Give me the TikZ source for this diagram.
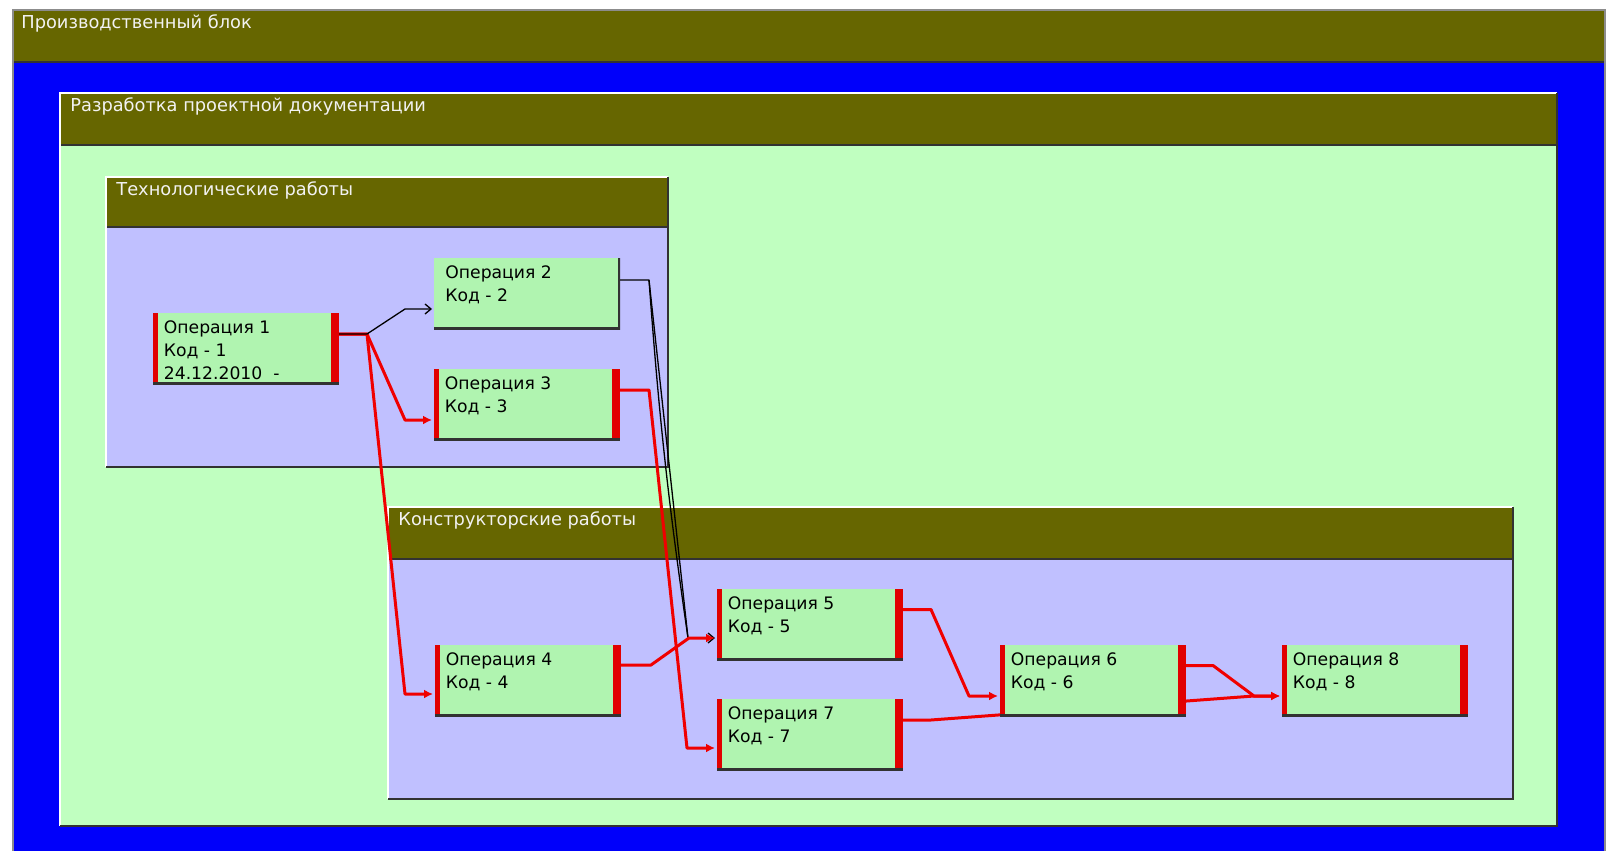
\documentclass[tikz,border=0pt]{standalone}
\usepackage{fontspec}
\setmainfont{DejaVu Sans}
\usetikzlibrary{arrows.meta}
\definecolor{hdrolive}{RGB}{102,102,0}
\definecolor{frameblue}{RGB}{0,0,250}
\definecolor{devgreen}{RGB}{192,255,192}
\definecolor{grplav}{RGB}{192,192,255}
\definecolor{opgreen}{RGB}{176,244,176}
\definecolor{barred}{RGB}{225,0,0}
\definecolor{wirered}{RGB}{240,0,0}
\definecolor{edgegray}{RGB}{140,140,140}
\definecolor{edgedark}{RGB}{50,50,50}
\definecolor{titlewhite}{RGB}{242,242,242}
\pgfdeclarelayer{groups}
\pgfdeclarelayer{wires}
\pgfsetlayers{groups,wires,main}
\newcommand\opstrut{\rule{0pt}{7pt}}
\newcommand\grpbox[8]{%
  \begin{pgfonlayer}{groups}
  \fill[#7] (#2,#6) rectangle (#4,#5);
  \fill[hdrolive] (#2,#3) rectangle (#4,#6);
  \draw[hdrline] (#2,#6) -- (#4,#6);
  \draw[lightedge] (#2,#5) -- (#2,#3) -- (#4,#3);
  \draw[darkedge] (#4,#3) -- (#4,#5) -- (#2,#5);
  \end{pgfonlayer}
  \node[grptitle] (#1) at ([xshift=5pt,yshift=-9pt]#2,#3) {#8};
}
\tikzset{
 opbox/.style={draw=none, fill=opgreen, minimum width=93pt, minimum height=35.5pt,
   inner sep=0pt, outer sep=0pt, anchor=north west},
 opbars/.style={opbox, path picture={
   \fill[barred] (path picture bounding box.north west) rectangle ([xshift=2.5pt]path picture bounding box.south west);
   \fill[barred] ([xshift=-4pt]path picture bounding box.north east) rectangle (path picture bounding box.south east);
   \draw[edgedark, line width=2pt] (path picture bounding box.south west) -- (path picture bounding box.south east);}},
 opplain/.style={opbox, path picture={
   \draw[edgedark, line width=2pt] (path picture bounding box.south west) -- (path picture bounding box.south east) -- (path picture bounding box.north east);}},
 optext/.style={anchor=north west, inner sep=0pt, align=left,
   font=\fontsize{8.6}{11.5}\selectfont, text=black},
 grptitle/.style={anchor=base west, inner sep=0pt, font=\fontsize{8.9}{11}\selectfont, text=titlewhite},
 redwire/.style={draw=wirered, line width=1.5pt, line join=round, -{Latex[length=4.5pt,width=4.5pt]}},
 blackwire/.style={draw=black, line width=0.65pt, line join=round},
 blackarrow/.style={blackwire, -{Straight Barb[length=3pt,width=5pt]}},
 lightedge/.style={draw=white, line width=0.8pt},
 darkedge/.style={draw=edgedark, line width=1.2pt},
 hdrline/.style={draw=edgedark, line width=1.2pt},
}
\begin{document}
\begin{tikzpicture}[x=0.5pt,y=-0.5pt]
\useasboundingbox (0,0) rectangle (1614,851);
\begin{pgfonlayer}{groups}
\fill[white] (0,0) rectangle (1614,851);
\fill[frameblue] (13,62) rectangle (1605,853);
\fill[hdrolive] (13,11) rectangle (1605,62);
\draw[hdrline] (13,62) -- (1605,62);
\draw[edgegray, line width=0.8pt] (13,853) -- (13,10) -- (1605,10) -- (1605,853);
\end{pgfonlayer}
\node[grptitle] (prod) at ([xshift=4pt,yshift=-9pt]13,10) {Производственный блок};

\grpbox{dev}{60}{93}{1557}{826}{145}{devgreen}{Разработка проектной документации}
\grpbox{tech}{106}{177}{668}{467}{227}{grplav}{Технологические работы}
\grpbox{konstr}{388}{507}{1513}{799}{559}{grplav}{Конструкторские работы}

% operations
\node[opbars]  (op1) at (153,313) {};
\node[opplain] (op2) at (434,258) {};
\node[opbars]  (op3) at (434,369) {};
\node[opbars]  (op4) at (435,645) {};
\node[opbars]  (op5) at (717,589) {};
\node[opbars]  (op7) at (717,699) {};
\node[opbars]  (op6) at (1000,645) {};
\node[opbars]  (op8) at (1282,645) {};

\node[optext] (op1t) at ([xshift=5.25pt,yshift=-3pt]op1.north west) {\opstrut Операция 1\\Код - 1\\24.12.2010\ \ -};
\node[optext] (op2t) at ([xshift=5.5pt,yshift=-3pt]op2.north west) {\opstrut Операция 2\\Код - 2};
\node[optext] (op3t) at ([xshift=5.25pt,yshift=-3pt]op3.north west) {\opstrut Операция 3\\Код - 3};
\node[optext] (op4t) at ([xshift=5.25pt,yshift=-3pt]op4.north west) {\opstrut Операция 4\\Код - 4};
\node[optext] (op5t) at ([xshift=5.25pt,yshift=-3pt]op5.north west) {\opstrut Операция 5\\Код - 5};
\node[optext] (op7t) at ([xshift=5.25pt,yshift=-3pt]op7.north west) {\opstrut Операция 7\\Код - 7};
\node[optext] (op6t) at ([xshift=5.25pt,yshift=-3pt]op6.north west) {\opstrut Операция 6\\Код - 6};
\node[optext] (op8t) at ([xshift=5.25pt,yshift=-3pt]op8.north west) {\opstrut Операция 8\\Код - 8};

% connectors
\begin{pgfonlayer}{wires}
% Op2 -> Op5 (black, doubled)
\draw[blackarrow] ([yshift=-11pt]op2.north east) -- ([xshift=14.5pt,yshift=-11pt]op2.north east)
  -- ([xshift=-14.5pt,yshift=-24.5pt]op5.north west) -- ([xshift=-1pt,yshift=-24.5pt]op5.north west);
\draw[blackwire] ([xshift=14.5pt,yshift=-11pt]op2.north east) to[bend right=2]
  ([xshift=-14.5pt,yshift=-24.5pt]op5.north west);
% red connectors
\draw[redwire] ([yshift=-10.5pt]op1.north east) -- ([xshift=14pt,yshift=-10.5pt]op1.north east)
  -- ([xshift=-14.5pt,yshift=-25.5pt]op3.north west) -- ([xshift=-1pt,yshift=-25.5pt]op3.north west);
\draw[redwire] ([yshift=-10.5pt]op1.north east) -- ([xshift=14pt,yshift=-10.5pt]op1.north east)
  -- ([xshift=-15pt,yshift=-24.5pt]op4.north west) -- ([xshift=-1pt,yshift=-24.5pt]op4.north west);
\draw[redwire] ([yshift=-10.5pt]op3.north east) -- ([xshift=14.5pt,yshift=-10.5pt]op3.north east)
  -- ([xshift=-15pt,yshift=-24.5pt]op7.north west) -- ([xshift=-1pt,yshift=-24.5pt]op7.north west);
\draw[redwire] ([yshift=-10pt]op4.north east) -- ([xshift=15pt,yshift=-10pt]op4.north east)
  -- ([xshift=-14pt,yshift=-24.5pt]op5.north west) -- ([xshift=-1pt,yshift=-24.5pt]op5.north west);
\draw[redwire] ([yshift=-10.25pt]op5.north east) -- ([xshift=14pt,yshift=-10.25pt]op5.north east)
  -- ([xshift=-15.5pt,yshift=-25.5pt]op6.north west) -- ([xshift=-1pt,yshift=-25.5pt]op6.north west);
\draw[redwire] ([yshift=-10.25pt]op6.north east) -- ([xshift=13.5pt,yshift=-10.25pt]op6.north east)
  -- ([xshift=-14pt,yshift=-25.5pt]op8.north west) -- ([xshift=-1pt,yshift=-25.5pt]op8.north west);
\draw[redwire] ([yshift=-10.5pt]op7.north east) -- ([xshift=14pt,yshift=-10.5pt]op7.north east)
  -- ([xshift=-14pt,yshift=-25.5pt]op8.north west) -- ([xshift=-1pt,yshift=-25.5pt]op8.north west);
% Op1 -> Op2 (black, drawn last)
\draw[blackarrow] ([yshift=-10.5pt]op1.north east) -- ([xshift=14pt,yshift=-10.5pt]op1.north east)
  -- ([xshift=-14.5pt,yshift=-25.5pt]op2.north west) -- ([xshift=-1pt,yshift=-25.5pt]op2.north west);
\end{pgfonlayer}
\end{tikzpicture}
\end{document}
